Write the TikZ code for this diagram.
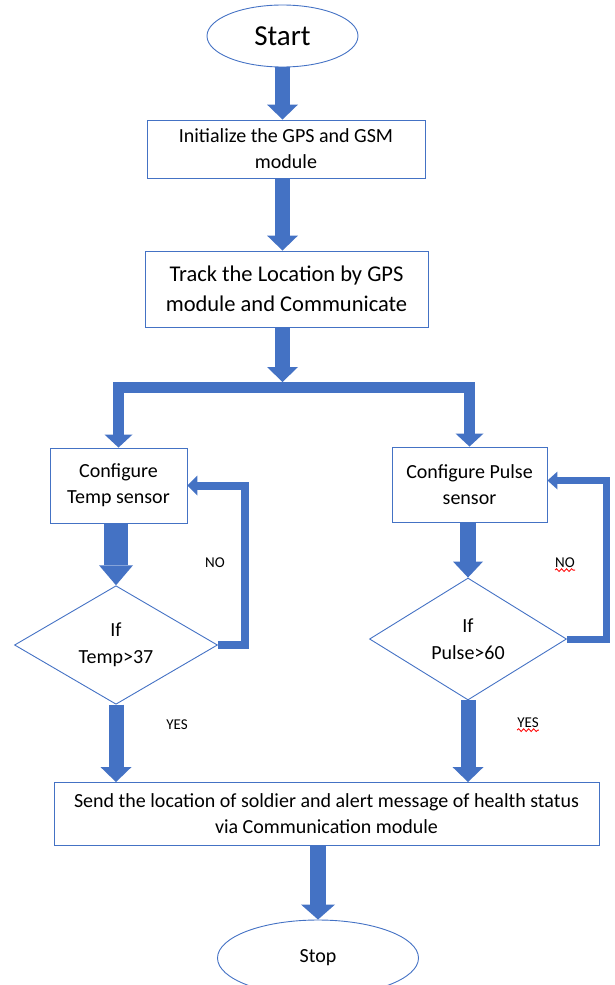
\documentclass[tikz,border=0pt]{standalone}
\usepackage{fontspec}
\setmainfont{Carlito}
\usetikzlibrary{arrows.meta,positioning,shapes.geometric,decorations.pathmorphing}
\definecolor{office}{HTML}{4472C4}
\tikzset{
	box/.style={draw=office,line width=0.9pt,rectangle,align=center,inner sep=0pt,font=\fontsize{20}{26}\selectfont},
	term/.style={draw=office,line width=0.9pt,ellipse,inner sep=0pt,font=\fontsize{20}{24}\selectfont},
	test/.style={draw=office,line width=0.9pt,diamond,align=center,inner sep=0pt,font=\fontsize{20}{27}\selectfont},
	flow/.style={draw=office,line width=15pt,-{Triangle[width=31pt,length=15pt,line width=0pt]}},
	branch/.style={draw=office,line width=11pt,-{Triangle[width=28pt,length=13pt,line width=0pt]}},
	back/.style={draw=office,line width=8pt,-{Triangle[width=20pt,length=10pt,line width=0pt]}},
	note/.style={inner sep=0pt,font=\fontsize{15}{17}\selectfont},
	squig/.style={draw=red,line width=0.8pt,decorate,decoration={snake,amplitude=1.4pt,segment length=5pt}}
}
\begin{document}
\begin{tikzpicture}[x=1pt,y=-1pt]
			\useasboundingbox (0,0) rectangle (615,985);

			\node[term,minimum width=151pt,minimum height=62pt,font=\fontsize{29}{32}\selectfont] (start) at (282.5, 36) {Start};

			\node[box,minimum width=278pt,minimum height=58pt] (init) at (286, 149) {Initialize the GPS and GSM\\module};

			\node[box,minimum width=283pt,minimum height=76pt,font=\fontsize{22.5}{30}\selectfont] (track) at (286.5, 289) {Track the Location by GPS\\module and Communicate};

			\node[coordinate] (X1) at (282.5, 387.5) {};

			\node[box,minimum width=137pt,minimum height=75pt] (temp) at (118.5, 485.5) {Configure\\Temp sensor};

			\node[box,minimum width=155pt,minimum height=75pt] (pulse) at (469.5, 484.5) {Configure Pulse\\sensor};

			\node[test,minimum width=203pt,minimum height=115pt] (iftemp) at (116, 645) {If\\Temp>37};

			\node[test,minimum width=197pt,minimum height=122pt] (ifpulse) at (468, 639) {If\\Pulse>60};

			\node[note] (no1) at (215, 563) {NO};
			\node[note] (yes1) at (177, 725) {YES};
			\node[note] (no2) at (565, 563) {NO};
			\node[note] (yes2) at (528, 723) {YES};

			\node[box,minimum width=545pt,minimum height=63pt] (send) at (326.5, 814) {Send the location of soldier and alert message of health status\\via Communication module};

			\node[term,minimum width=201pt,minimum height=76pt] (stop) at (318, 958) {Stop};

			\draw[flow] (start.south) -- (start.south |- init.north);
			\draw[flow] (start.south |- init.south) -- (start.south |- track.north);
			\draw[flow,shorten >=5.5pt] (start.south |- track.south) -- (X1);
			\draw[branch] (X1) -| (temp);
			\draw[branch] (X1) -| (pulse);
			\draw[flow,line width=24pt,-{Triangle[width=34pt,length=20pt,line width=0pt]}] (iftemp.north |- temp.south) -- (iftemp.north);
			\draw[flow,line width=16pt,-{Triangle[width=30pt,length=16pt,line width=0pt]}] (ifpulse.north |- pulse.south) -- (ifpulse.north);
			\draw[back] (iftemp.east) -- ++(27.5,0) |- (temp.east);
			\draw[back,line width=7pt,-{Triangle[width=18pt,length=10pt,line width=0pt]}] (ifpulse.east) -- ++(40,0) |- ([yshift=4pt]pulse.east);
			\draw[flow] (iftemp.south) -- (iftemp.south |- send.north);
			\draw[flow] (ifpulse.south) -- (ifpulse.south |- send.north);
			\draw[flow,line width=16pt,-{Triangle[width=34pt,length=15pt,line width=0pt]}] (stop.north |- send.south) -- (stop.north);
			\draw[squig] ([yshift=-2pt]no2.south west) -- ([yshift=-2pt]no2.south east);
			\draw[squig] ([yshift=-2pt]yes2.south west) -- ([yshift=-2pt]yes2.south east);
		\end{tikzpicture}
\end{document}
